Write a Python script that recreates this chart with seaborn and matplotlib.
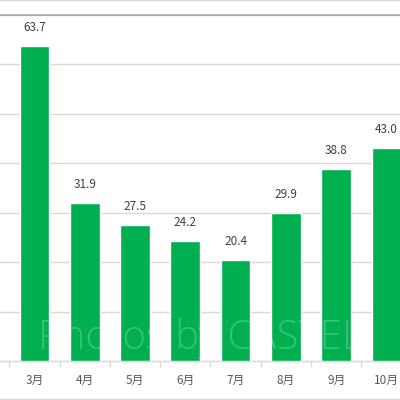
import matplotlib
matplotlib.use("Agg")
import matplotlib.pyplot as plt
import seaborn as sns
import pandas as pd
from matplotlib.lines import Line2D

months = ["3月", "4月", "5月", "6月", "7月", "8月", "9月", "10月"]
values = [63.7, 31.9, 27.5, 24.2, 20.4, 29.9, 38.8, 43.0]

sns.set_theme(style="white")
plt.rcParams['font.family'] = ['Noto Sans CJK JP', 'DejaVu Sans']

df = pd.DataFrame({"month": months, "value": values})

fig = plt.figure(figsize=(4, 4), dpi=100)
ax = fig.add_axes([0, (400 - 361) / 400, 1, 346 / 400])

sns.barplot(data=df, x="month", y="value", order=months, color="#00B050",
            saturation=1, width=0.59, ax=ax, zorder=3)

ax.set_yticks(range(0, 71, 10))
ax.yaxis.grid(True, color="#D9D9D9", linewidth=1)
ax.set_axisbelow(True)
ax.tick_params(axis="y", left=False, labelleft=False)
for s in ["left", "right", "top"]:
    ax.spines[s].set_visible(False)
ax.spines["bottom"].set_color("#D9D9D9")
ax.spines["bottom"].set_linewidth(1)
ax.axhline(70, color="#A6A6A6", linewidth=1.2, zorder=2, clip_on=False)

ax.set_xlabel("")
ax.set_ylabel("")
ax.set_xticks(range(len(months)))
ax.set_xticklabels(months, fontsize=8.5, color="#595959")
ax.tick_params(axis="x", length=0, pad=9)
# minor ticks at category boundaries
ax.set_xticks([i - 0.5 for i in range(len(months) + 1)], minor=True)
ax.tick_params(axis="x", which="minor", length=4, color="#D9D9D9", width=1, bottom=True)

ax.set_ylim(0, 70)
ax.set_xlim(-0.686, 7.27)

for c in ax.containers:
    ax.bar_label(c, labels=[f"{v:.1f}" for v in values], padding=9,
                 fontsize=8.5, color="#404040")

fig.text(0.5, 62 / 400, "Photos by CASTEL", ha="center", va="center",
         fontsize=29, color="white", alpha=0.22, family="Open Sans",
         fontweight="light", zorder=10)

fig.add_artist(Line2D([0, 1], [0.999, 0.999], color="#D9D9D9", linewidth=1,
                      transform=fig.transFigure))
fig.add_artist(Line2D([0, 1], [0.002, 0.002], color="#D9D9D9", linewidth=1,
                      transform=fig.transFigure))

fig.savefig("out.png", dpi=100)
